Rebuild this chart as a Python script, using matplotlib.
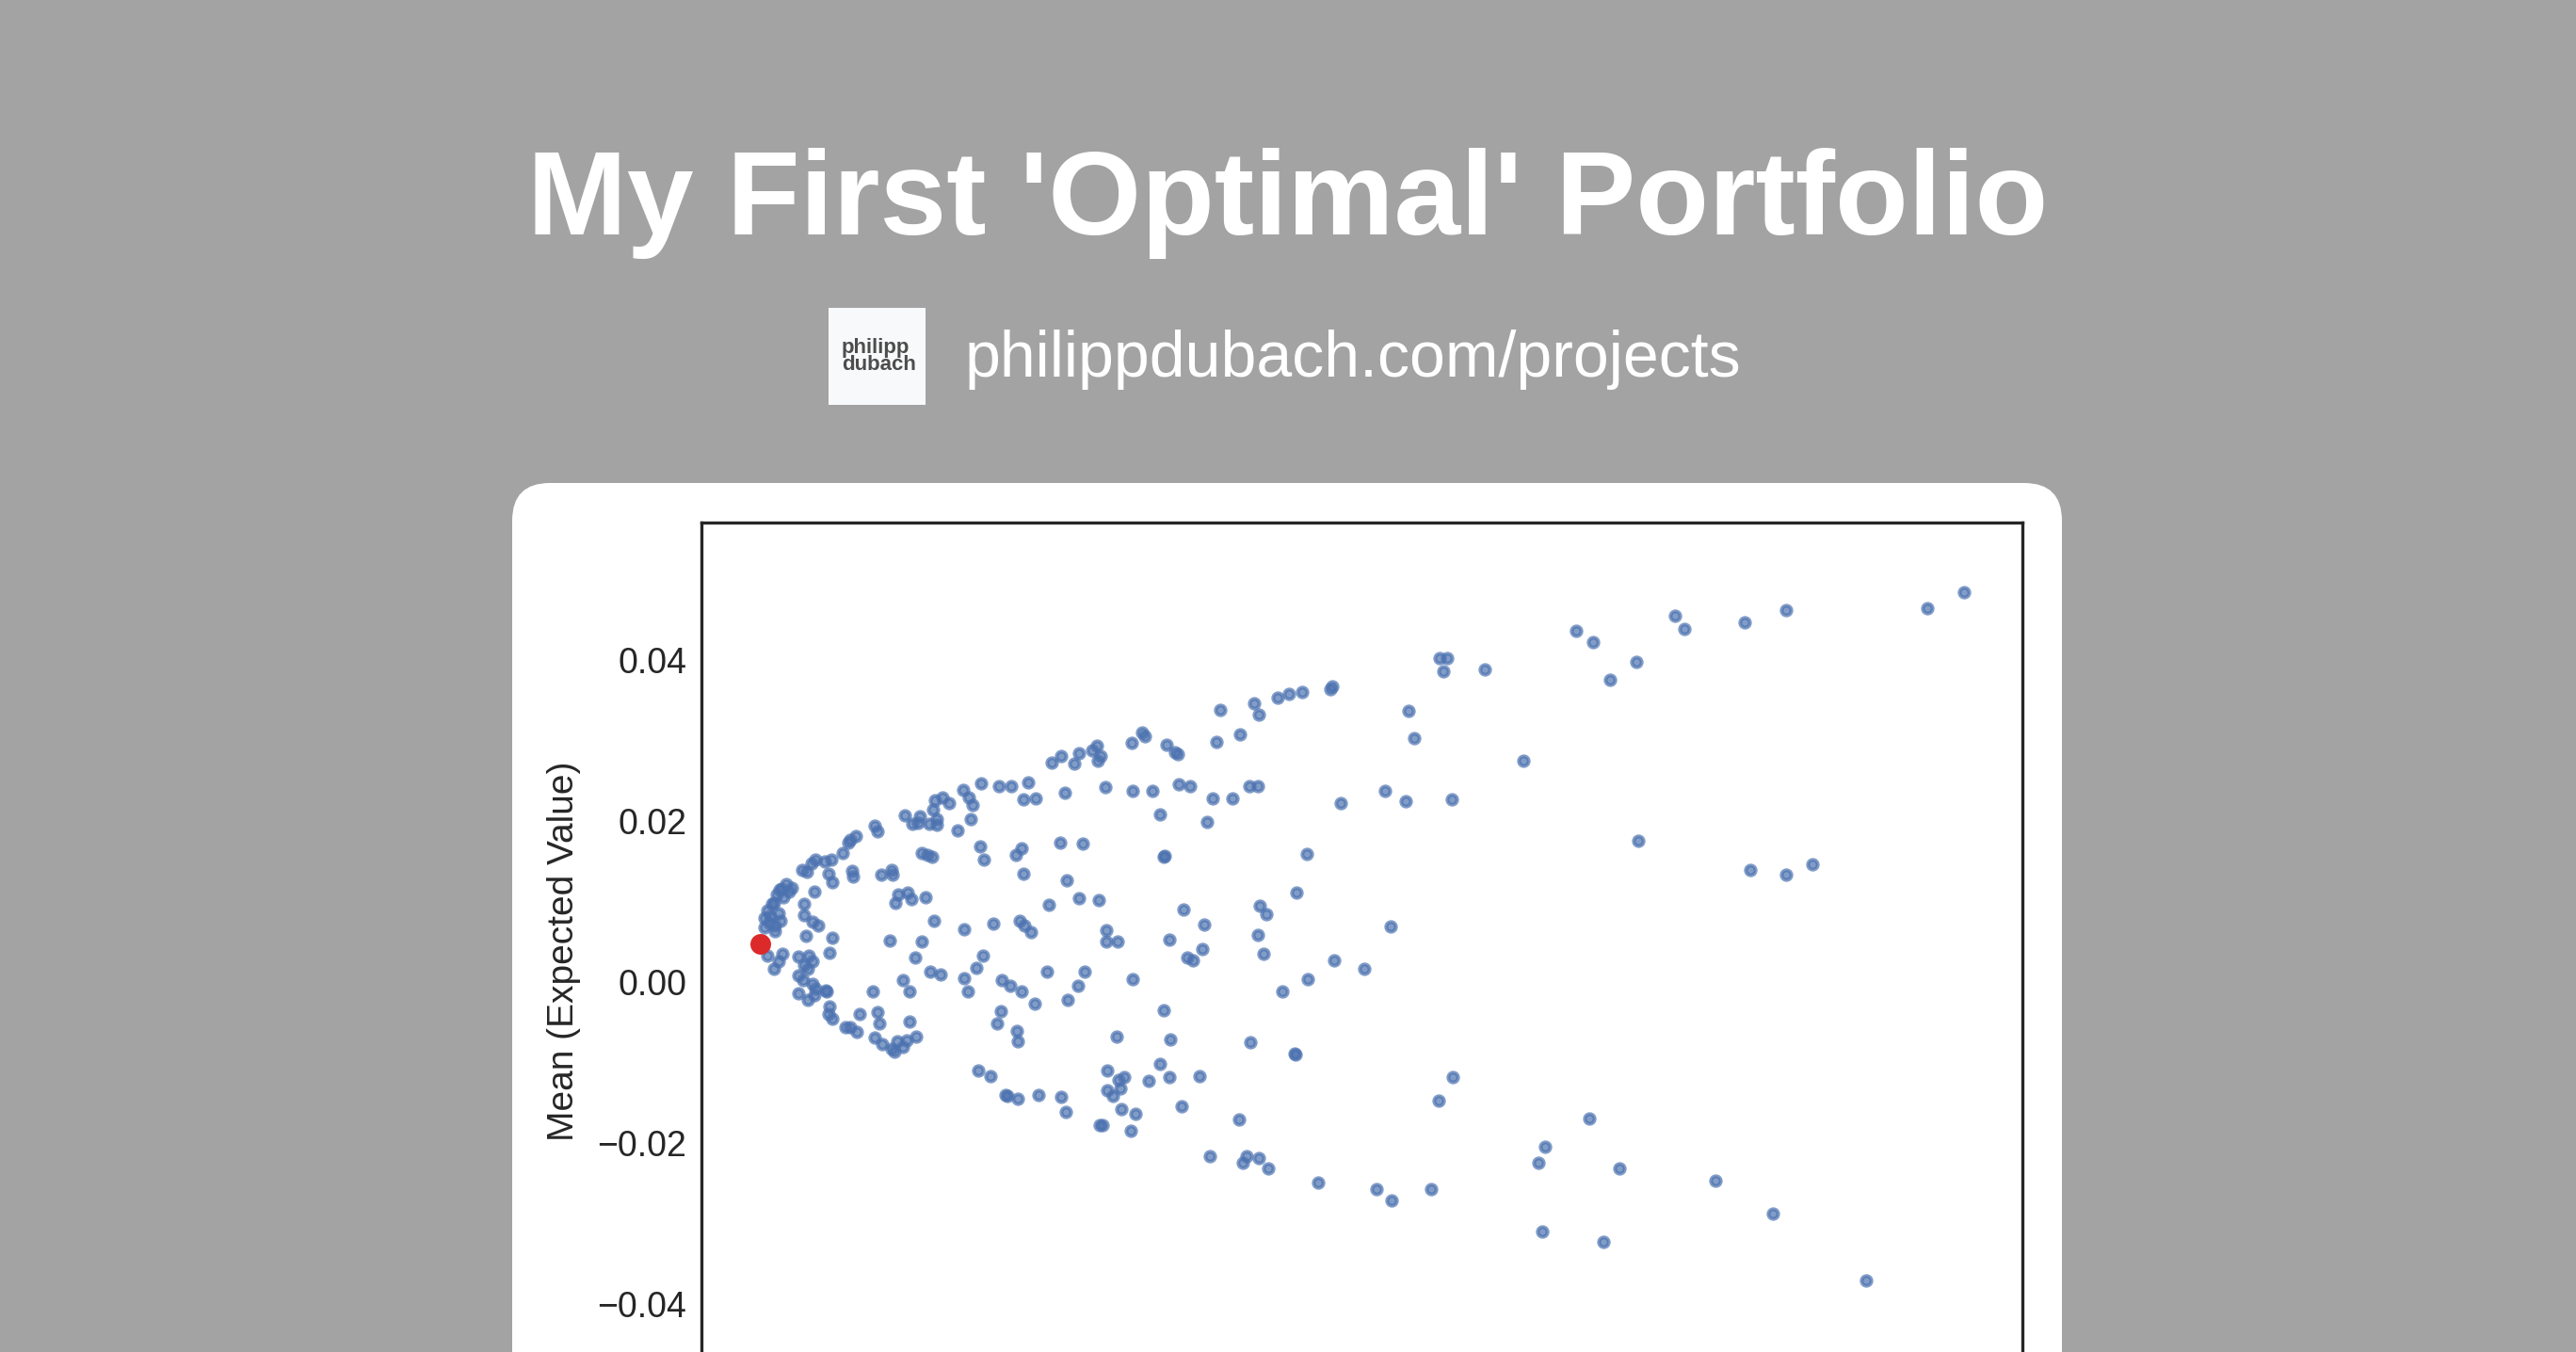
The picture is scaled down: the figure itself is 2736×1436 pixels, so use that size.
import numpy as np
import matplotlib
matplotlib.use('Agg')
import matplotlib.pyplot as plt
from matplotlib.patches import FancyBboxPatch

# Random portfolios: (std dev, expected value)
portfolios = [
    (0.0572, 0.0273), (0.0497, 0.0247), (0.0516, 0.0243), (0.0529, 0.0243), (0.0547, 0.0248),
    (0.0542, 0.0227), (0.0555, 0.0228), (0.0478, 0.0239), (0.0484, 0.0230), (0.0488, 0.0220),
    (0.0486, 0.0202), (0.0472, 0.0189), (0.0456, 0.0230), (0.0448, 0.0226), (0.0463, 0.0222),
    (0.0446, 0.0214), (0.0450, 0.0202), (0.0450, 0.0195), (0.0442, 0.0197), (0.0432, 0.0206),
    (0.0430, 0.0198), (0.0424, 0.0197), (0.0416, 0.0207), (0.0384, 0.0194), (0.0387, 0.0187),
    (0.0364, 0.0182), (0.0358, 0.0177), (0.0356, 0.0173), (0.0350, 0.0160), (0.0434, 0.0161),
    (0.0440, 0.0158), (0.0445, 0.0156), (0.0496, 0.0169), (0.0500, 0.0152), (0.0540, 0.0166),
    (0.0534, 0.0158), (0.0542, 0.0135), (0.0321, 0.0152), (0.0317, 0.0148), (0.0331, 0.0150),
    (0.0338, 0.0152), (0.0307, 0.0140), (0.0312, 0.0137), (0.0335, 0.0135), (0.0339, 0.0124),
    (0.0360, 0.0138), (0.0361, 0.0131), (0.0391, 0.0133), (0.0402, 0.0139), (0.0403, 0.0133),
    (0.0290, 0.0122), (0.0296, 0.0117), (0.0285, 0.0116), (0.0280, 0.0109), (0.0287, 0.0105),
    (0.0320, 0.0113), (0.0309, 0.0097), (0.0309, 0.0083), (0.0318, 0.0075), (0.0324, 0.0070),
    (0.0311, 0.0057), (0.0339, 0.0055), (0.0409, 0.0109), (0.0419, 0.0111), (0.0423, 0.0103),
    (0.0406, 0.0098), (0.0438, 0.0106), (0.0447, 0.0076), (0.0479, 0.0066), (0.0510, 0.0073),
    (0.0538, 0.0076), (0.0543, 0.0070), (0.0550, 0.0062), (0.0569, 0.0096),
    (0.0275, 0.0097), (0.0270, 0.0089), (0.0267, 0.0080), (0.0273, 0.0082), (0.0282, 0.0086),
    (0.0284, 0.0076), (0.0278, 0.0070), (0.0267, 0.0068), (0.0278, 0.0063), (0.0272, 0.0074),
    (0.0283, 0.0115), (0.0293, 0.0112), (0.0277, 0.0099), (0.0400, 0.0052), (0.0434, 0.0051),
    # lower-left arc
    (0.0270, 0.0033), (0.0277, 0.0017), (0.0282, 0.0026), (0.0286, 0.0035), (0.0303, 0.0032),
    (0.0314, 0.0033), (0.0318, 0.0026), (0.0309, 0.0021), (0.0313, 0.0017), (0.0303, 0.0009),
    (0.0308, 0.0003), (0.0318, -0.0002), (0.0321, -0.0008), (0.0303, -0.0014), (0.0313, -0.0022),
    (0.0320, -0.0016), (0.0332, -0.0010), (0.0333, -0.0012), (0.0336, 0.0037), (0.0336, -0.0030),
    (0.0335, -0.0039), (0.0339, -0.0045), (0.0353, -0.0056), (0.0358, -0.0056), (0.0365, -0.0062),
    (0.0368, -0.0040), (0.0382, -0.0011), (0.0387, -0.0037), (0.0389, -0.0051), (0.0384, -0.0069),
    (0.0392, -0.0077), (0.0402, -0.0083), (0.0405, -0.0086), (0.0408, -0.0074), (0.0414, -0.0080),
    (0.0418, -0.0072), (0.0428, -0.0068), (0.0421, -0.0049), (0.0414, 0.0002), (0.0421, -0.0011),
    (0.0427, 0.0031), (0.0443, 0.0013), (0.0454, 0.0010), (0.0479, 0.0005), (0.0483, -0.0011),
    (0.0492, 0.0018), (0.0499, 0.0033), (0.0519, 0.0002), (0.0528, -0.0004), (0.0540, -0.0012),
    (0.0554, -0.0027), (0.0567, 0.0013), (0.0518, -0.0036), (0.0514, -0.0051), (0.0535, -0.0060),
    (0.0536, -0.0074), (0.0494, -0.0110), (0.0507, -0.0117), (0.0523, -0.0140), (0.0525, -0.0141),
    (0.0536, -0.0145), (0.0558, -0.0140),
    # middle band
    (0.0751, 0.0338), (0.0787, 0.0347), (0.0792, 0.0332), (0.0812, 0.0354), (0.0824, 0.0358),
    (0.0838, 0.0361), (0.0868, 0.0364), (0.0870, 0.0367), (0.0772, 0.0308), (0.0747, 0.0298),
    (0.0668, 0.0310), (0.0671, 0.0305), (0.0657, 0.0297), (0.0694, 0.0295), (0.0703, 0.0286),
    (0.0706, 0.0283), (0.0620, 0.0294), (0.0615, 0.0288), (0.0624, 0.0281), (0.0621, 0.0275),
    (0.0601, 0.0285), (0.0582, 0.0281), (0.0596, 0.0272), (0.0586, 0.0235), (0.0629, 0.0242),
    (0.0658, 0.0238), (0.0679, 0.0238), (0.0707, 0.0246), (0.0719, 0.0244), (0.0782, 0.0243),
    (0.0791, 0.0243), (0.0743, 0.0228), (0.0764, 0.0228), (0.0687, 0.0208), (0.0737, 0.0199),
    (0.0879, 0.0222), (0.0581, 0.0173), (0.0605, 0.0172), (0.0691, 0.0156), (0.0692, 0.0157),
    (0.0843, 0.0159), (0.0588, 0.0127), (0.0601, 0.0104), (0.0622, 0.0102), (0.0832, 0.0111),
    (0.0712, 0.0090), (0.0793, 0.0095), (0.0800, 0.0084), (0.0734, 0.0072), (0.0791, 0.0059),
    (0.0630, 0.0065), (0.0630, 0.0050), (0.0642, 0.0050), (0.0697, 0.0053),
    (0.0732, 0.0041), (0.0716, 0.0031), (0.0722, 0.0027), (0.0797, 0.0035), (0.0872, 0.0027),
    (0.0904, 0.0017), (0.0844, 0.0004), (0.0817, -0.0012), (0.0607, 0.0013), (0.0600, -0.0005),
    (0.0589, -0.0022), (0.0658, 0.0004), (0.0691, -0.0035), (0.0641, -0.0068), (0.0698, -0.0071),
    (0.0783, -0.0075), (0.0830, -0.0089), (0.0831, -0.0090), (0.0687, -0.0102), (0.0697, -0.0118),
    (0.0729, -0.0117), (0.0631, -0.0110), (0.0643, -0.0121), (0.0649, -0.0118), (0.0645, -0.0132),
    (0.0631, -0.0134), (0.0637, -0.0141), (0.0675, -0.0123), (0.0582, -0.0143), (0.0587, -0.0161),
    (0.0646, -0.0158), (0.0661, -0.0163), (0.0623, -0.0177), (0.0626, -0.0177), (0.0656, -0.0185),
    (0.0710, -0.0154), (0.0771, -0.0170), (0.0740, -0.0216), (0.0779, -0.0216), (0.0775, -0.0224),
    (0.0792, -0.0219), (0.0802, -0.0231), (0.0855, -0.0249),
    # right tail
    (0.1541, 0.0485), (0.1502, 0.0464), (0.1352, 0.0462), (0.1308, 0.0447), (0.1234, 0.0455),
    (0.1244, 0.0439), (0.1129, 0.0437), (0.1147, 0.0422), (0.1193, 0.0398), (0.1165, 0.0376),
    (0.0984, 0.0403), (0.0992, 0.0403), (0.0988, 0.0386), (0.1032, 0.0389), (0.0951, 0.0337),
    (0.0957, 0.0303), (0.1073, 0.0275), (0.0926, 0.0238), (0.0948, 0.0225), (0.0997, 0.0227),
    (0.1195, 0.0176), (0.1314, 0.0139), (0.1352, 0.0134), (0.1380, 0.0146), (0.0932, 0.0069),
    (0.0998, -0.0118), (0.0983, -0.0147), (0.1143, -0.0169), (0.1096, -0.0204), (0.1089, -0.0224),
    (0.1175, -0.0231), (0.1277, -0.0247), (0.0975, -0.0257), (0.0933, -0.0271), (0.0917, -0.0257),
    (0.1338, -0.0288), (0.1093, -0.0310), (0.1158, -0.0322), (0.1437, -0.0370),
]
# minimum-variance ("optimal") portfolio
opt_std = 0.0263
opt_mean = 0.0047

title = "My First 'Optimal' Portfolio"
site = "philippdubach.com/projects"
ylabel = "Mean (Expected Value)"
yticks = [-0.04, -0.02, 0.00, 0.02, 0.04]

std = np.array([p[0] for p in portfolios])
mean = np.array([p[1] for p in portfolios])

W, H = 2736, 1436
BG = '#a3a3a3'

plt.rcParams['font.family'] = ['Liberation Sans', 'DejaVu Sans']

fig = plt.figure(figsize=(W / 100, H / 100), dpi=100, facecolor=BG)

# background layer in pixel coordinates
bg = fig.add_axes([0, 0, 1, 1])
bg.set_xlim(0, W)
bg.set_ylim(H, 0)
bg.axis('off')
bg.set_facecolor(BG)

card = FancyBboxPatch((544, 513), 1646, 1100, boxstyle="round,pad=0,rounding_size=40",
                      fc='white', ec='none')
bg.add_patch(card)

bg.text(W / 2, 249, title, ha='center', va='baseline', color='white',
        fontsize=91.5, fontweight='bold')

logo = FancyBboxPatch((880, 327), 103, 103, boxstyle="square,pad=0", fc='#f8f9fa', ec='none')
bg.add_patch(logo)
bg.text(894, 375, "philipp", ha='left', va='baseline', color='#4d4d4d',
        fontsize=16, fontweight='bold')
bg.text(894, 393, "dubach", ha='left', va='baseline', color='#4d4d4d',
        fontsize=16, fontweight='bold')
bg.text(1025, 400, site, ha='left', va='baseline', color='white', fontsize=49)

# scatter axes (extends past the bottom edge, card is cropped)
ylim = (-0.0494, 0.0571)
xlim = (0.02, 0.1603)
px_per_unit = 8550.0
ax_left, ax_right, ax_top = 745, 2148, 555
ax_h = (ylim[1] - ylim[0]) * px_per_unit
ax = fig.add_axes([ax_left / W, (H - ax_top - ax_h) / H, (ax_right - ax_left) / W, ax_h / H])
ax.set_facecolor('white')

ax.scatter(std, mean, s=55, color='#4c72b0', alpha=0.7, linewidths=2.9, zorder=2)
ax.scatter([opt_std], [opt_mean], s=250, color='#dc2a2a', edgecolors='none', zorder=3)

ax.set_xlim(*xlim)
ax.set_ylim(*ylim)
ax.set_yticks(yticks)
ax.set_yticklabels(['\u22120.04', '\u22120.02', '0.00', '0.02', '0.04'])
ax.set_xticks([])
ax.tick_params(axis='y', length=0, pad=11.5, labelsize=27, labelcolor='#262626')
ax.set_ylabel(ylabel, fontsize=28, color='#262626', labelpad=12)
for sp in ax.spines.values():
    sp.set_color('#262626')
    sp.set_linewidth(2.4)

fig.savefig('out.png', dpi=100, facecolor=BG)
